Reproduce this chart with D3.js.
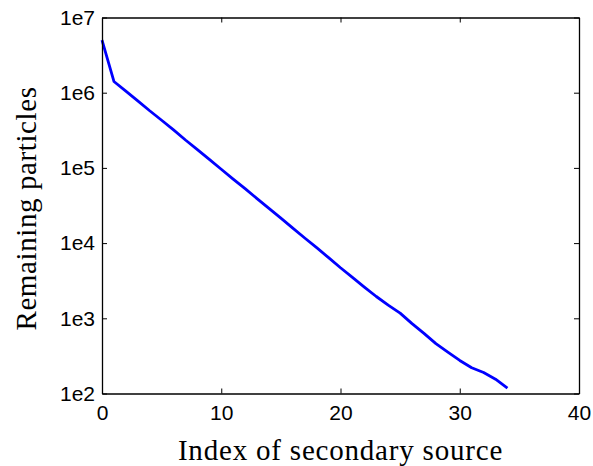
<!DOCTYPE html>
<html>
<head>
<meta charset="utf-8">
<script src="https://cdn.jsdelivr.net/npm/d3@7"></script>
<style>
  body { margin: 0; background: #fff; }
</style>
</head>
<body>
<div id="chart"></div>
<script>
// index of secondary source
var sourceIndex = [0, 1, 2, 3, 4, 5, 6, 7, 8, 9, 10, 11, 12, 13, 14, 15, 16, 17,
    18, 19, 20, 21, 22, 23, 24, 25, 26, 27, 28, 29, 30, 31, 32, 33, 34];
// remaining particles
var remaining = [5.0e6, 1.41e6, 1.05e6, 7.8e5, 5.75e5, 4.3e5, 3.2e5, 2.35e5, 1.75e5, 1.3e5,
    9.6e4, 7.1e4, 5.3e4, 3.9e4, 2.9e4, 2.15e4, 1.58e4, 1.17e4, 8.7e3, 6.4e3,
    4.7e3, 3.5e3, 2.6e3, 1.95e3, 1.5e3, 1.17e3, 850, 630, 460, 355,
    275, 220, 190, 155, 118];
var xTicks = [0, 10, 20, 30, 40];
var yTicks = [1e2, 1e3, 1e4, 1e5, 1e6, 1e7];
var yTickLabels = ["1e2", "1e3", "1e4", "1e5", "1e6", "1e7"];

var margin = {top: 17.5, right: 14, bottom: 72.5, left: 102},
    width = 593 - margin.left - margin.right,
    height = 466 - margin.top - margin.bottom;

var svg = d3.select("#chart")
  .append("svg")
    .attr("width", 593)
    .attr("height", 466)
  .append("g")
    .attr("transform", "translate(" + margin.left + "," + margin.top + ")");

var x = d3.scaleLinear().domain([0, 40]).range([0, width]);
var y = d3.scaleLog().domain([1e2, 1e7]).range([height, 0]);

var tickFont = "'Liberation Sans', Arial, Helvetica, sans-serif";
var labelFont = "'Liberation Serif', 'Times New Roman', serif";

// line
var line = d3.line()
  .x(function(d, i) { return x(sourceIndex[i]); })
  .y(function(d) { return y(d); });

svg.append("path")
  .datum(remaining)
  .attr("fill", "none")
  .attr("stroke", "#0000ff")
  .attr("stroke-width", 2.8)
  .attr("stroke-linejoin", "round")
  .attr("d", line);

// axes, ticks pointing inward on all four sides
var bottom = svg.append("g")
  .attr("transform", "translate(0," + height + ")")
  .call(d3.axisBottom(x).tickValues(xTicks).tickSizeInner(-5).tickSizeOuter(0).tickPadding(12));
var top_ = svg.append("g")
  .call(d3.axisTop(x).tickValues(xTicks).tickSizeInner(-5).tickSizeOuter(0).tickFormat(""));
var left = svg.append("g")
  .call(d3.axisLeft(y).tickValues(yTicks).tickSizeInner(-5).tickSizeOuter(0).tickPadding(7)
    .tickFormat(function(d, i) { return yTickLabels[i]; }));
var right = svg.append("g")
  .attr("transform", "translate(" + width + ",0)")
  .call(d3.axisRight(y).tickValues(yTicks).tickSizeInner(-5).tickSizeOuter(0).tickFormat(""));

[bottom, top_, left, right].forEach(function(a) {
  a.select(".domain").attr("stroke", "#000").attr("stroke-width", 1.3);
  a.selectAll(".tick line").attr("stroke", "#000").attr("stroke-width", 1);
  a.selectAll("text")
    .attr("fill", "#000")
    .style("font-family", tickFont)
    .style("font-size", "21px");
});
bottom.selectAll("text").attr("dy", "0.71em");

// axis titles
svg.append("text")
  .attr("x", width / 2)
  .attr("y", height + 66)
  .attr("text-anchor", "middle")
  .style("font-family", labelFont)
  .style("font-size", "29px")
  .style("letter-spacing", "0.8px")
  .text("Index of secondary source");

svg.append("text")
  .attr("transform", "translate(" + (-66) + "," + (height / 2 + 3) + ") rotate(-90)")
  .attr("text-anchor", "middle")
  .style("font-family", labelFont)
  .style("font-size", "29px")
  .style("letter-spacing", "0.6px")
  .text("Remaining particles");
</script>
</body>
</html>
